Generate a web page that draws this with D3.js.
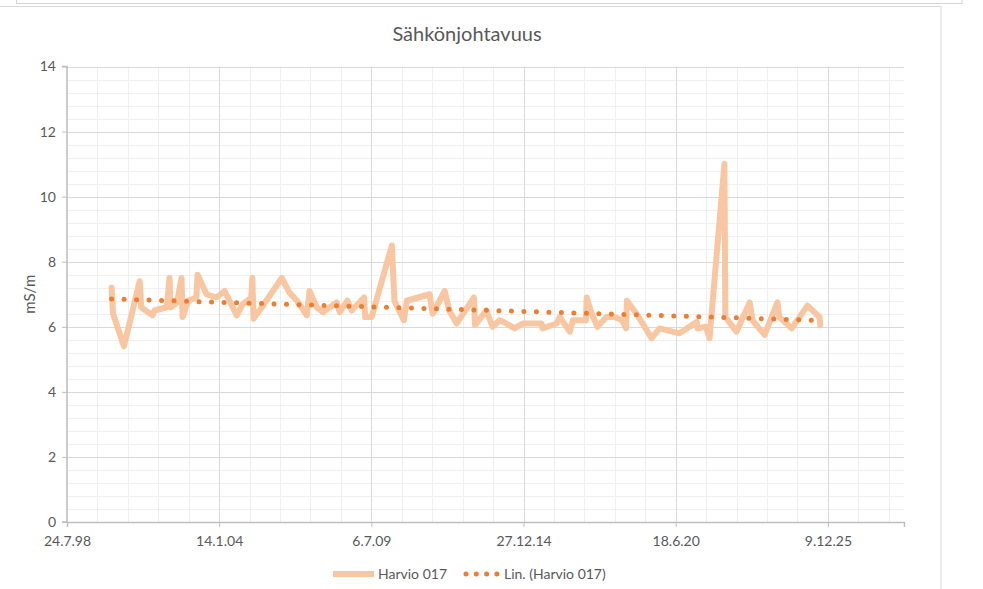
<!DOCTYPE html>
<html>
<head>
<meta charset="utf-8">
<script src="https://cdn.jsdelivr.net/npm/d3@7"></script>
<style>
  body { margin: 0; background: #fff; }
  svg { display: block; }
  text { font-family: Lato, "Liberation Sans", sans-serif; fill: #595959; }
</style>
</head>
<body>
<svg id="chart" width="983" height="589"></svg>
<script>
// Sampling dates and measured conductivity (mS/m), Harvio 017
const sampleDates = [
  "2000-03-01","2000-03-20","2000-08-10","2001-03-05","2001-03-25","2001-08-20","2001-09-15",
  "2002-02-25","2002-04-01","2002-04-15","2002-07-10","2002-09-05","2002-09-20","2002-12-01",
  "2003-03-20","2003-04-05","2003-08-01","2003-12-10","2004-03-25","2004-09-01","2004-11-20",
  "2005-03-10","2005-03-25","2005-04-10","2005-08-10","2006-04-15","2006-07-25","2006-11-01",
  "2007-03-10","2007-04-15","2007-07-20","2007-10-10","2008-04-05","2008-05-15","2008-08-25",
  "2008-10-20","2009-04-01","2009-04-15","2009-07-10","2010-04-01","2010-05-05","2010-09-05",
  "2010-10-15","2011-08-10","2011-09-20","2012-02-25","2012-04-25","2012-07-30","2013-03-15",
  "2013-03-30","2013-08-25","2013-11-15","2014-02-15","2014-05-15","2014-09-01","2014-12-15",
  "2015-08-20","2015-09-05","2016-03-05","2016-04-15","2016-08-25","2016-10-05","2017-03-25",
  "2017-04-05","2017-06-10","2017-08-25","2017-12-20","2018-04-05","2018-07-15","2018-09-05",
  "2018-09-15","2019-01-20","2019-04-10","2019-08-05","2019-11-20","2020-08-05","2021-03-20",
  "2021-04-01","2021-07-20","2021-09-05","2022-03-20","2022-04-01","2022-08-25","2023-02-15",
  "2023-03-25","2023-08-30","2024-02-15","2024-03-10","2024-08-20","2025-03-15","2025-08-20",
  "2025-08-30"
];
const conductivity = [
  7.2, 6.4, 5.4, 7.4, 6.6, 6.35, 6.5,
  6.6, 7.5, 6.6, 6.75, 7.5, 6.3, 6.8,
  6.9, 7.6, 7.0, 6.9, 7.1, 6.35, 6.7,
  6.9, 7.5, 6.25, 6.65, 7.5, 7.05, 6.8,
  6.35, 7.1, 6.6, 6.45, 6.75, 6.45, 6.8,
  6.5, 6.9, 6.3, 6.3, 8.5, 6.8, 6.2,
  6.8, 7.0, 6.4, 7.1, 6.5, 6.1, 6.9,
  6.05, 6.5, 6.0, 6.2, 6.1, 5.95, 6.1,
  6.1, 5.95, 6.1, 6.3, 5.85, 6.2, 6.2,
  6.9, 6.4, 6.0, 6.3, 6.3, 6.2, 5.95,
  6.8, 6.4, 6.1, 5.65, 5.95, 5.8, 6.15,
  5.95, 6.0, 5.65, 11.0, 6.3, 5.85, 6.75,
  6.2, 5.75, 6.75, 6.3, 5.95, 6.65, 6.3,
  6.05
];
const yTicks = [0, 2, 4, 6, 8, 10, 12, 14];
const seriesName = "Harvio 017";
const trendName = "Lin. (Harvio 017)";
const chartTitle = "Sähkönjohtavuus";
const yAxisTitle = "mS/m";

// Date axis runs on 2000-day major / 400-day minor steps from 24.7.1998
const axisStart = new Date(1998, 6, 24);
const axisSpanDays = 11000;
const majorStepDays = 2000;
const minorStepDays = 400;

const parse = d3.timeParse("%Y-%m-%d");
const data = sampleDates.map((d, i) => ({ date: parse(d), value: conductivity[i] }));

const svg = d3.select("#chart");
const W = 983, H = 589;
const plot = { left: 67, right: 904, top: 66.5, bottom: 522 };

// outer frames
svg.append("rect").attr("x", 16.5).attr("y", -2).attr("width", 945.5).attr("height", 5.5)
  .attr("fill", "#fff").attr("stroke", "#d4d4d4");
svg.append("rect").attr("x", -2).attr("y", 6.5).attr("width", 943).attr("height", H + 10)
  .attr("fill", "#fff").attr("stroke", "#d9d9d9");

const x = d3.scaleTime()
  .domain([axisStart, d3.timeDay.offset(axisStart, axisSpanDays)])
  .range([plot.left, plot.right]);
const y = d3.scaleLinear().domain([0, 14]).range([plot.bottom, plot.top]);

// minor gridlines
const minorX = d3.range(0, axisSpanDays + 1, minorStepDays).map(k => d3.timeDay.offset(axisStart, k));
const minorY = d3.range(0, 14.001, 0.4);
const grid = svg.append("g");
grid.selectAll(".mx").data(minorX).join("line")
  .attr("x1", d => Math.round(x(d)) + 0.5).attr("x2", d => Math.round(x(d)) + 0.5)
  .attr("y1", plot.top).attr("y2", plot.bottom)
  .attr("stroke", "#efefef").attr("stroke-width", 1);
grid.selectAll(".my").data(minorY).join("line")
  .attr("x1", plot.left).attr("x2", plot.right)
  .attr("y1", d => Math.round(y(d)) + 0.5).attr("y2", d => Math.round(y(d)) + 0.5)
  .attr("stroke", "#efefef").attr("stroke-width", 1);

// major gridlines
const majorX = d3.range(0, axisSpanDays, majorStepDays).map(k => d3.timeDay.offset(axisStart, k));
grid.selectAll(".Mx").data(majorX.slice(1)).join("line")
  .attr("x1", d => Math.round(x(d)) + 0.5).attr("x2", d => Math.round(x(d)) + 0.5)
  .attr("y1", plot.top).attr("y2", plot.bottom)
  .attr("stroke", "#d9d9d9").attr("stroke-width", 1);
grid.selectAll(".My").data(yTicks.slice(1)).join("line")
  .attr("x1", plot.left).attr("x2", plot.right)
  .attr("y1", d => Math.round(y(d)) + 0.5).attr("y2", d => Math.round(y(d)) + 0.5)
  .attr("stroke", "#d9d9d9").attr("stroke-width", 1);

// axes
const fmt = d3.timeFormat("%-d.%-m.%y");
const xAxis = d3.axisBottom(x).tickValues(majorX).tickFormat(fmt).tickSize(5).tickPadding(9);
const yAxis = d3.axisLeft(y).tickValues(yTicks).tickSize(5).tickPadding(6);

const gx = svg.append("g").attr("transform", `translate(0,${plot.bottom})`).call(xAxis);
const gy = svg.append("g").attr("transform", `translate(${plot.left},0)`).call(yAxis);
[gx, gy].forEach(g => {
  g.select(".domain").attr("stroke", "#bfbfbf").attr("stroke-width", 1.5);
  g.selectAll(".tick line").attr("stroke", "#bfbfbf");
  g.selectAll(".tick text").attr("fill", "#595959").style("font-size", "14px")
    .style("font-family", "Lato, 'Liberation Sans', sans-serif");
});
gy.select(".domain").attr("d", `M${-5},${plot.bottom}H0V${plot.top}H-5`);

// series line
const line = d3.line().x(d => x(d.date)).y(d => y(d.value));
svg.append("path").datum(data)
  .attr("d", line)
  .attr("fill", "none")
  .attr("stroke", "#f8c6a0")
  .attr("stroke-width", 6)
  .attr("stroke-linejoin", "round")
  .attr("stroke-linecap", "round");

// linear trend (least squares over time)
const xs = data.map(d => +d.date), ys = data.map(d => d.value);
const mx = d3.mean(xs), my = d3.mean(ys);
const slope = d3.sum(xs, (v, i) => (v - mx) * (ys[i] - my)) / d3.sum(xs, v => (v - mx) ** 2);
const intercept = my - slope * mx;
const ends = [data[0].date, data[data.length - 1].date];
svg.append("path")
  .datum(ends.map(dt => ({ date: dt, value: intercept + slope * (+dt) })))
  .attr("d", line)
  .attr("fill", "none")
  .attr("stroke", "#ed7d31")
  .attr("stroke-width", 5)
  .attr("stroke-linecap", "round")
  .attr("stroke-dasharray", "0 12.5");

// title
svg.append("text").attr("x", 467).attr("y", 41).attr("text-anchor", "middle")
  .style("font-size", "20px").text(chartTitle);

// y axis title
svg.append("text").attr("transform", `translate(35,${(plot.top + plot.bottom) / 2}) rotate(-90)`)
  .attr("text-anchor", "middle").style("font-size", "15px").text(yAxisTitle);

// legend
const lg = svg.append("g").attr("transform", "translate(0,574)");
lg.append("line").attr("x1", 333).attr("x2", 374).attr("y1", 0).attr("y2", 0)
  .attr("stroke", "#f8c6a0").attr("stroke-width", 6);
lg.append("text").attr("x", 378).attr("y", 5).style("font-size", "14px").text(seriesName);
lg.append("line").attr("x1", 466).attr("x2", 497).attr("y1", 0).attr("y2", 0)
  .attr("stroke", "#ed7d31").attr("stroke-width", 5).attr("stroke-linecap", "round")
  .attr("stroke-dasharray", "0 10.3");
lg.append("text").attr("x", 504).attr("y", 5).style("font-size", "14px").text(trendName);
</script>
</body>
</html>
